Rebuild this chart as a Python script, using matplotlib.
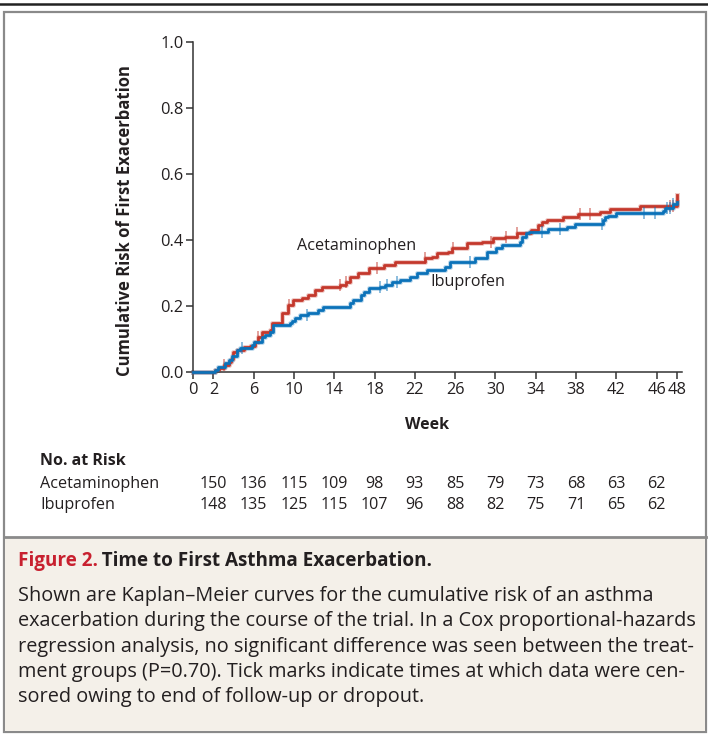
import numpy as np
import matplotlib.pyplot as plt
from matplotlib.patches import Rectangle
from matplotlib.transforms import blended_transform_factory

plt.rcParams['font.family'] = ['Open Sans', 'DejaVu Sans']

# Kaplan-Meier step data (week, cumulative risk)
acet_t = [0, 2.2, 2.6, 3.0, 3.5, 3.7, 3.9, 4.3, 5.0, 5.6, 6.1, 6.4, 6.8, 7.6, 7.8, 8.8,
          9.4, 9.9, 10.8, 11.4, 12.1, 12.8, 14.6, 15.2, 15.6, 16.4, 17.4, 18.9, 20.0,
          23.0, 23.7, 24.2, 25.3, 25.7, 27.2, 28.7, 29.8, 31.0, 32.1, 33.5, 34.2, 34.6,
          35.1, 36.7, 38.2, 40.4, 41.4, 44.4, 48.0]
acet_v = [0, 0.005, 0.012, 0.02, 0.03, 0.04, 0.06, 0.067, 0.075, 0.08, 0.09, 0.106, 0.12,
          0.127, 0.15, 0.18, 0.203, 0.218, 0.224, 0.233, 0.248, 0.258, 0.265, 0.272, 0.288,
          0.30, 0.315, 0.324, 0.333, 0.345, 0.35, 0.36, 0.364, 0.375, 0.39, 0.395, 0.405,
          0.41, 0.42, 0.43, 0.445, 0.455, 0.46, 0.47, 0.478, 0.485, 0.494, 0.503, 0.536]

ibu_t = [0, 2.2, 2.5, 3.1, 3.5, 3.8, 4.3, 4.6, 5.8, 6.0, 6.8, 7.1, 7.6, 7.9, 9.6, 9.8,
         10.1, 10.6, 11.4, 12.4, 12.9, 15.6, 15.9, 16.7, 17.0, 17.4, 18.5, 19.0, 19.7,
         20.5, 21.5, 22.2, 23.2, 25.0, 25.5, 28.0, 29.2, 30.1, 30.7, 32.4, 32.6, 33.0,
         33.3, 35.2, 37.1, 37.9, 40.7, 40.9, 41.2, 42.0, 46.6, 46.8, 47.6, 48.0]
ibu_v = [0, 0.005, 0.015, 0.027, 0.036, 0.05, 0.067, 0.073, 0.082, 0.09, 0.106, 0.112,
         0.12, 0.142, 0.148, 0.155, 0.163, 0.173, 0.178, 0.188, 0.197, 0.208, 0.218, 0.233,
         0.242, 0.255, 0.258, 0.263, 0.273, 0.28, 0.288, 0.30, 0.31, 0.318, 0.333, 0.345,
         0.364, 0.375, 0.385, 0.395, 0.41, 0.42, 0.424, 0.433, 0.44, 0.448, 0.46, 0.47,
         0.473, 0.482, 0.488, 0.497, 0.51, 0.515]

# censoring times
acet_cens = [3.0, 6.4, 9.5, 14.6, 15.2, 18.2, 23.0, 25.8, 29.6, 31.1, 32.1, 38.4, 39.4, 47.3, 47.6]
ibu_cens = [4.8, 11.3, 18.5, 19.2, 20.2, 27.5, 34.6, 36.4, 40.6, 44.8, 45.8, 47.0, 47.3, 47.6]

xticks = [0, 2, 6, 10, 14, 18, 22, 26, 30, 34, 38, 42, 46, 48]
yticks = [0.0, 0.2, 0.4, 0.6, 0.8, 1.0]

risk_weeks = [2, 6, 10, 14, 18, 22, 26, 30, 34, 38, 42, 46]
risk_acet = [150, 136, 115, 109, 98, 93, 85, 79, 73, 68, 63, 62]
risk_ibu = [148, 135, 125, 115, 107, 96, 88, 82, 75, 71, 65, 62]

caption_lines = [
    "Shown are Kaplan\u2013Meier curves for the cumulative risk of an asthma",
    "exacerbation during the course of the trial. In a Cox proportional-hazards",
    "regression analysis, no significant difference was seen between the treat-",
    "ment groups (P=0.70). Tick marks indicate times at which data were cen-",
    "sored owing to end of follow-up or dropout.",
]

red = '#c4382c'
blue = '#0b72b9'
dark = '#231f20'

W, H = 708, 735
fig = plt.figure(figsize=(W / 100, H / 100), dpi=100)


def fx(px):
    return px / W


def fy(py):
    return 1 - py / H


# frame and caption box
fig.add_artist(plt.Line2D([0, 1], [fy(4), fy(4)], color='#222222', lw=1.8))
fig.add_artist(Rectangle((fx(4), fy(732)), fx(702), fy(12) - fy(732), fill=False,
                         edgecolor='#8a8a8a', lw=1.6))
fig.add_artist(Rectangle((fx(5), fy(731)), fx(700), fy(537) - fy(731),
                         facecolor='#f4f0e9', edgecolor='none'))
fig.add_artist(plt.Line2D([fx(4), fx(706)], [fy(537), fy(537)], color='#8a8a8a', lw=2))

ax = fig.add_axes([fx(193.3), fy(372), fx(488.4), fy(42) - fy(372)])
ax.set_xlim(0, 48.5)
ax.set_ylim(0, 1.0)

# soft halo under each curve, like the printed original
ax.step(acet_t, acet_v, where='post', color=red, lw=3.6, alpha=0.25, clip_on=False, zorder=2)
ax.step(ibu_t, ibu_v, where='post', color=blue, lw=3.6, alpha=0.25, clip_on=False, zorder=2)
ax.step(acet_t, acet_v, where='post', color=red, lw=2.0, clip_on=False, zorder=3)
ax.step(ibu_t, ibu_v, where='post', color=blue, lw=2.0, clip_on=False, zorder=4)


def at(ts, vs, c):
    i = np.searchsorted(ts, c, side='right') - 1
    return np.array(vs)[i]


ax.plot(acet_cens, at(acet_t, acet_v, acet_cens), ls='none', marker='|', ms=8, mew=1.2,
        color=red, alpha=0.55, zorder=3)
ax.plot(ibu_cens, at(ibu_t, ibu_v, ibu_cens), ls='none', marker='|', ms=8, mew=1.2,
        color=blue, alpha=0.55, zorder=4)

ax.text(10.3, 0.382, 'Acetaminophen', fontsize=11.6, color=dark, va='center', ha='left')
ax.text(23.5, 0.273, 'Ibuprofen', fontsize=11.6, color=dark, va='center', ha='left')

for s in ['top', 'right']:
    ax.spines[s].set_visible(False)
for s in ['left', 'bottom']:
    ax.spines[s].set_color('#333333')
    ax.spines[s].set_linewidth(1.1)

ax.set_xticks(xticks)
ax.set_xticklabels([str(x) for x in xticks])
ax.set_yticks(yticks)
ax.set_yticklabels(['%.1f' % y for y in yticks])
ax.tick_params(axis='both', direction='out', length=5, width=1.1, color='#333333',
               labelsize=11.8, labelcolor=dark, pad=2)

fig.text(fx(125), fy(221), 'Cumulative Risk of First Exacerbation', rotation=90,
         fontsize=12, fontweight='bold', color=dark, ha='center', va='center')
fig.text(fx(427), fy(425), 'Week', fontsize=11.5, fontweight='bold', color=dark,
         ha='center', va='center')

# number at risk table
fig.text(fx(40), fy(461), 'No. at Risk', fontsize=11.5, fontweight='bold', color=dark,
         ha='left', va='center')
fig.text(fx(40), fy(484), 'Acetaminophen', fontsize=11.6, color=dark, ha='left', va='center')
fig.text(fx(40), fy(505), 'Ibuprofen', fontsize=11.6, color=dark, ha='left', va='center')
tr = blended_transform_factory(ax.transData, fig.transFigure)
for w, a, b in zip(risk_weeks, risk_acet, risk_ibu):
    fig.text(w, fy(484), str(a), transform=tr, fontsize=11.6, color=dark,
             ha='center', va='center')
    fig.text(w, fy(505), str(b), transform=tr, fontsize=11.6, color=dark,
             ha='center', va='center')

# caption
t1 = fig.text(fx(18), fy(561), 'Figure 2.', fontsize=13.6, fontweight='bold',
              color='#c8202f', ha='left', va='center')
r = fig.canvas.get_renderer()
bb = t1.get_window_extent(r)
fig.text(bb.x1 / W, fy(561), '\u2009Time to First Asthma Exacerbation.', fontsize=13.6,
         fontweight='bold', color=dark, ha='left', va='center')
for i, line in enumerate(caption_lines):
    fig.text(fx(18), fy(596 + i * 25.3), line, fontsize=14.3, color=dark,
             ha='left', va='center')

fig.savefig('out.png', dpi=100)
